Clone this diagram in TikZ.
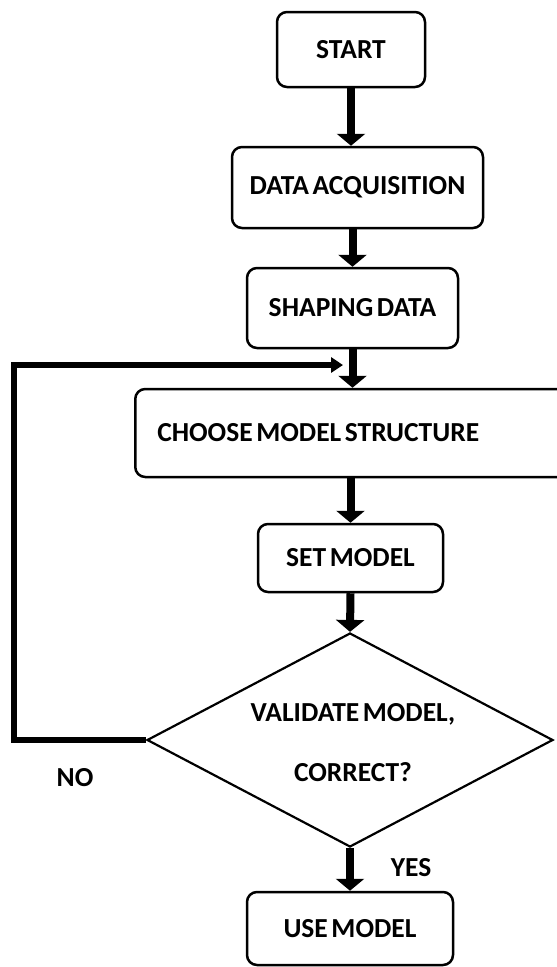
\documentclass[tikz,border=0pt]{standalone}
\usepackage{fontspec}
\setmainfont{Carlito}
\usetikzlibrary{shapes.geometric,arrows.meta}

\newcommand{\labelfont}{\fontsize{27.5}{32}\selectfont\bfseries\spaceskip=0.13em\relax}

\tikzset{
  stepbox/.style={draw, line width=2.5pt, rounded corners=10pt, align=center,
    inner sep=0pt, font=\labelfont},
  decision/.style={draw, diamond, line width=2.2pt, inner sep=0pt},
  lbl/.style={font=\labelfont, inner sep=0pt, align=center},
  flow/.style={line width=8pt, -{Triangle[width=28pt,length=12pt]}},
  loopline/.style={line width=6pt, line join=miter, -{Triangle[width=15pt,length=12pt]}},
}

\begin{document}
\begin{tikzpicture}[x=1pt,y=-1pt]
  \useasboundingbox (0,0) rectangle (557,967);
  \clip (0,0) rectangle (557,967);

  % process steps
  \node[stepbox, minimum width=148pt, minimum height=75pt] (start) at (351,49.5) {START};
  \node[stepbox, minimum width=251pt, minimum height=81pt] (data) at (357.5,187.5) {DATA ACQUISITION};
  \node[stepbox, minimum width=211pt, minimum height=80pt] (shaping) at (352.5,308) {SHAPING DATA};
  \node[stepbox, anchor=west, minimum height=88pt, text width=400pt, align=left,
        inner xsep=22pt] (choose) at (134,433)
    {\labelfont CHOOSE MODEL STRUCTURE};
  \node[stepbox, minimum width=185pt, minimum height=68pt] (set) at (350.5,558) {SET MODEL};
  \node[decision, minimum width=406pt, minimum height=214pt] (check) at (350,740) {};
  \node[lbl] (checktext) at (353,743) {VALIDATE MODEL,\\[28pt]CORRECT?};
  \node[stepbox, minimum width=206pt, minimum height=73pt] (use) at (350,928.5) {USE MODEL};

  % labels of the decision
  \node[lbl] (no) at (75,778) {NO};
  \node[lbl] (yes) at (411,868) {YES};

  % main flow
  \draw[flow] (start.south) -- (start.south |- data.north);
  \draw[flow] (shaping.north |- data.south) -- (shaping.north);
  \draw[flow] (shaping.south) -- (shaping.south |- choose.north);
  \draw[flow] (set.north |- choose.south) -- (set.north);
  \draw[flow] (set.south) -- (check.north);
  \draw[flow] (check.south) -- (use.north);

  % loop back when the model is rejected
  \coordinate (back) at (14,740);
  \coordinate (reentry) at (343,365);
  \draw[loopline] (check.west) -- (back) -- (back |- reentry) -- (reentry);
\end{tikzpicture}
\end{document}
